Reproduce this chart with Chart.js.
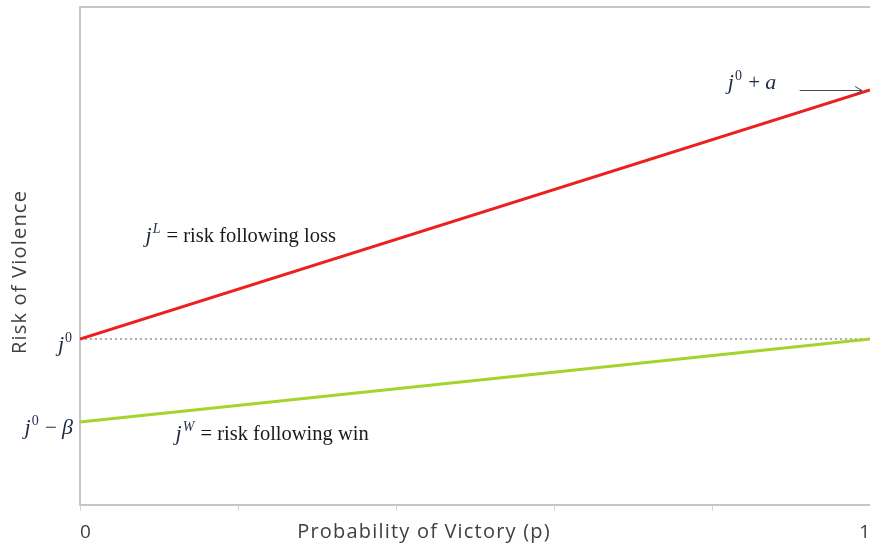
<!DOCTYPE html>
<html>
<head>
<meta charset="utf-8">
<script src="https://cdn.jsdelivr.net/npm/chart.js@4.4.0/dist/chart.umd.min.js"></script>
<style>
  html, body { margin: 0; padding: 0; background: #ffffff; overflow: hidden; }
  canvas { display: block; }
</style>
</head>
<body>
<canvas id="chart" width="870" height="545"></canvas>
<script>
// Probability of victory (x) and the risk of violence for each outcome
const probability = [0, 1];
const riskAfterLoss = [2, 5];
const riskAfterWin = [1, 2];
const baselineRisk = [2, 2];

// Axis ticks and labels
const xTickValues = [0, 0.2, 0.4, 0.6, 0.8, 1];
const xTickLabels = ['0', '', '', '', '', '1'];
const yTickValues = [1, 2];
const yTickLabels = ['j⁰ − β', 'j⁰'];
const xAxisTitle = 'Probability of Victory (p)';
const yAxisTitle = 'Risk of Violence';

const AXIS_COLOR = '#c6c6c6';
const TEXT_COLOR = '#404040';
const MATH_COLOR = '#1f2b47';
const BODY_COLOR = '#1a1a1a';
const SANS = '"Open Sans", "Noto Sans", sans-serif';
const SERIF = '"Liberation Serif", "DejaVu Serif", serif';

const MATH_ITALIC = 'italic 22px ' + SERIF;
const MATH_UPRIGHT = '21px ' + SERIF;
const SUP = '14px ' + SERIF;
const SUP_ITALIC = 'italic 14px ' + SERIF;
const BODY = '20.5px ' + SERIF;

// Superscript characters: [drawn glyph, italic?]
const SUPERSCRIPTS = { '⁰': ['0', false], 'ᴸ': ['L', true], 'ᵂ': ['W', true] };
const ITALIC_SYMBOLS = 'jaβ';

function points(ys) {
  return probability.map((p, i) => ({ x: p, y: ys[i] }));
}

// Split a math string into runs: italic symbols, superscripts, upright operators
function mathRuns(str) {
  return Array.from(str).map(ch => {
    const sup = SUPERSCRIPTS[ch];
    if (sup) return { text: sup[0], font: sup[1] ? SUP_ITALIC : SUP, color: MATH_COLOR, rise: 9, gap: 1 };
    if (ITALIC_SYMBOLS.includes(ch)) return { text: ch, font: MATH_ITALIC, color: MATH_COLOR, gap: ch === 'j' ? 1 : 0 };
    return { text: ch, font: MATH_UPRIGHT, color: MATH_COLOR };
  });
}

function measureRuns(ctx, runs) {
  let w = 0;
  for (const r of runs) {
    ctx.font = r.font;
    w += ctx.measureText(r.text).width + (r.gap || 0);
  }
  return w;
}

function drawRuns(ctx, x, y, runs) {
  ctx.textAlign = 'left';
  ctx.textBaseline = 'alphabetic';
  for (const r of runs) {
    ctx.font = r.font;
    ctx.fillStyle = r.color;
    ctx.fillText(r.text, x, y - (r.rise || 0));
    x += ctx.measureText(r.text).width + (r.gap || 0);
  }
  return x;
}

const annotations = {
  id: 'annotations',
  afterDraw(chart) {
    const ctx = chart.ctx;
    const xs = chart.scales.x;
    const ys = chart.scales.y;
    ctx.save();

    // Axis titles
    ctx.fillStyle = TEXT_COLOR;
    ctx.font = '20px ' + SANS;
    ctx.letterSpacing = '1.2px';
    ctx.textAlign = 'center';
    ctx.textBaseline = 'middle';
    ctx.fillText(xAxisTitle, 424, 532);
    ctx.save();
    ctx.translate(20, 272);
    ctx.rotate(-Math.PI / 2);
    ctx.fillText(yAxisTitle, 0, 0);
    ctx.restore();
    ctx.letterSpacing = '0px';

    // Y tick labels (symbolic levels)
    ys.ticks.forEach((t, i) => {
      const runs = mathRuns(yTickLabels[i]);
      const w = measureRuns(ctx, runs);
      drawRuns(ctx, 73 - w, ys.getPixelForValue(t.value) + 12, runs);
    });

    // Loss line label
    drawRuns(ctx, xs.getPixelForValue(0.083), ys.getPixelForValue(3.17),
      mathRuns('jᴸ').concat([{ text: ' = risk following loss', font: BODY, color: BODY_COLOR }]));

    // Win line label
    drawRuns(ctx, xs.getPixelForValue(0.121), ys.getPixelForValue(0.78),
      mathRuns('jᵂ').concat([{ text: ' = risk following win', font: BODY, color: BODY_COLOR }]));

    // End-point label with arrow
    const topY = ys.getPixelForValue(5);
    drawRuns(ctx, xs.getPixelForValue(0.82), topY - 1, mathRuns('j⁰ + a'));
    const ax0 = xs.getPixelForValue(0.911);
    const ax1 = xs.getPixelForValue(0.99);
    ctx.strokeStyle = '#4a4a4a';
    ctx.lineWidth = 1;
    ctx.beginPath();
    ctx.moveTo(ax0, topY + 0.5);
    ctx.lineTo(ax1, topY + 0.5);
    ctx.moveTo(ax1 - 7, topY - 3.5);
    ctx.lineTo(ax1, topY + 0.5);
    ctx.lineTo(ax1 - 7, topY + 4.5);
    ctx.stroke();

    ctx.restore();
  }
};

new Chart(document.getElementById('chart'), {
  type: 'line',
  data: {
    datasets: [
      {
        label: 'risk following loss',
        data: points(riskAfterLoss),
        borderColor: '#ee1f1f',
        borderWidth: 3,
        pointRadius: 0
      },
      {
        label: 'risk following win',
        data: points(riskAfterWin),
        borderColor: '#a3d52a',
        borderWidth: 3,
        pointRadius: 0
      },
      {
        label: 'baseline risk',
        data: points(baselineRisk),
        borderColor: '#5a5a5a',
        borderWidth: 1,
        borderDash: [2, 3],
        pointRadius: 0
      }
    ]
  },
  options: {
    responsive: false,
    devicePixelRatio: 1,
    animation: false,
    layout: { autoPadding: false, padding: { top: 7, right: 0, left: 0, bottom: 0 } },
    plugins: { legend: { display: false }, tooltip: { enabled: false } },
    scales: {
      x: {
        type: 'linear',
        position: 'bottom',
        min: 0,
        max: 1,
        afterBuildTicks(scale) { scale.ticks = xTickValues.map(v => ({ value: v })); },
        afterFit(scale) {
          scale.height = 40;
          scale.paddingLeft = 0;
          scale.paddingRight = 0;
        },
        ticks: {
          align: 'inner',
          padding: 10,
          color: TEXT_COLOR,
          font: { family: SANS, size: 19 },
          callback(value, index) { return xTickLabels[index]; }
        },
        grid: { drawOnChartArea: false, drawTicks: true, tickLength: 6, color: '#d4d4d4', lineWidth: 1 },
        border: { display: true, color: AXIS_COLOR, width: 2 }
      },
      xTop: {
        type: 'linear',
        position: 'top',
        min: 0,
        max: 1,
        ticks: { display: false },
        grid: { display: false, drawTicks: false },
        border: { display: true, color: AXIS_COLOR, width: 2 }
      },
      y: {
        type: 'linear',
        min: 0,
        max: 6,
        afterBuildTicks(scale) { scale.ticks = yTickValues.map(v => ({ value: v })); },
        afterFit(scale) { scale.width = 80; },
        ticks: { display: false },
        grid: { display: false, drawTicks: false },
        border: { display: true, color: AXIS_COLOR, width: 2 }
      }
    }
  },
  plugins: [annotations]
});
</script>
</body>
</html>
